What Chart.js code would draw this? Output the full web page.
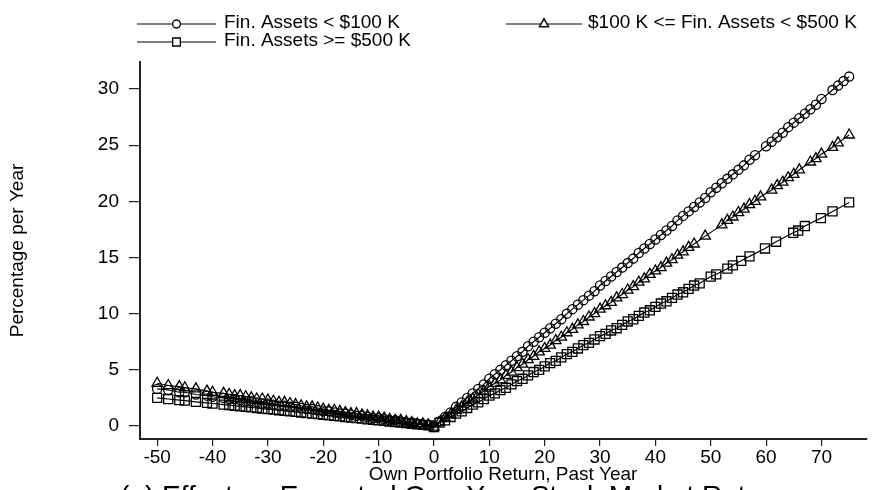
<!DOCTYPE html>
<html>
<head>
<meta charset="utf-8">
<script src="https://cdn.jsdelivr.net/npm/chart.js@4.4.1/dist/chart.umd.min.js"></script>
<style>
  html, body { margin: 0; padding: 0; background: #fff; }
  #wrap { width: 874px; height: 490px; position: relative; overflow: hidden; }
</style>
</head>
<body>
<div id="wrap"><canvas id="c" width="874" height="490"></canvas></div>
<script>
// Own portfolio return (x, %) and expected market return (y, % per year), by wealth group
const lowX = [-50,-48,-46,-45,-43,-41,-40,-38,-37,-36,-35,-34,-33,-32,-31,-30,-29,-28,-27,-26,-25,-24,-23,-22,-21,-20,-19,-18,-17,-16,-15,-14,-13,-12,-11,-10,-9,-8,-7,-6,-5,-4,-3,-2,-1,0,
  1,2,3,4,5,6,7,8,9,10,11,12,13,14,15,16,17,18,19,20,21,22,23,24,25,26,27,28,29,30,31,32,33,34,35,36,37,38,39,40,41,42,43,44,45,46,47,48,49,50,51,52,53,54,55,56,57,58,
  60,61,62,63,64,65,66,67,68,69,70,72,73,74,75];
const lowY = [3.3,3.2,3.0,3.0,2.8,2.7,2.6,2.5,2.4,2.4,2.3,2.2,2.2,2.1,2.0,2.0,1.9,1.8,1.8,1.7,1.7,1.6,1.5,1.5,1.4,1.3,1.3,1.2,1.1,1.1,1.0,0.9,0.9,0.8,0.7,0.7,0.6,0.5,0.5,0.4,0.3,0.3,0.2,0.1,0.1,-0.1,
  0.4,0.8,1.2,1.7,2.1,2.5,2.9,3.3,3.7,4.2,4.6,5.0,5.4,5.8,6.2,6.6,7.1,7.5,7.9,8.3,8.7,9.1,9.5,10.0,10.4,10.8,11.2,11.6,12.0,12.5,12.9,13.3,13.7,14.1,14.5,14.9,15.4,15.8,16.2,16.6,17.0,17.4,17.8,18.3,18.7,19.1,19.5,19.9,20.3,20.8,21.2,21.6,22.0,22.4,22.8,23.2,23.7,24.1,
  24.9,25.3,25.7,26.1,26.6,27.0,27.4,27.8,28.2,28.6,29.1,29.9,30.3,30.7,31.1];

const midX = [-50,-48,-46,-45,-43,-41,-40,-38,-37,-36,-35,-34,-33,-32,-31,-30,-29,-28,-27,-26,-25,-24,-23,-22,-21,-20,-19,-18,-17,-16,-15,-14,-13,-12,-11,-10,-9,-8,-7,-6,-5,-4,-3,-2,-1,0,
  1,2,3,4,5,6,7,8,9,10,11,12,13,14,15,16,17,18,19,20,21,22,23,24,25,26,27,28,29,30,31,32,33,34,35,36,37,38,39,40,41,42,43,44,45,46,47,49,
  52,53,54,55,56,57,58,59,61,62,63,64,65,66,68,69,70,72,73,75];
const midY = [3.8,3.6,3.5,3.4,3.3,3.1,3.0,2.9,2.8,2.7,2.7,2.6,2.5,2.4,2.4,2.3,2.2,2.1,2.1,2.0,1.9,1.8,1.7,1.7,1.6,1.5,1.4,1.4,1.3,1.2,1.1,1.1,1.0,0.9,0.8,0.8,0.7,0.6,0.5,0.5,0.4,0.3,0.2,0.2,0.1,-0.1,
  0.3,0.7,1.0,1.4,1.7,2.1,2.4,2.8,3.1,3.5,3.8,4.1,4.5,4.8,5.2,5.5,5.9,6.2,6.6,6.9,7.2,7.6,7.9,8.3,8.6,9.0,9.3,9.7,10.0,10.4,10.7,11.0,11.4,11.7,12.1,12.4,12.8,13.1,13.5,13.8,14.1,14.5,14.8,15.2,15.5,15.9,16.2,16.9,
  17.9,18.3,18.6,19.0,19.3,19.7,20.0,20.4,21.0,21.4,21.7,22.1,22.4,22.8,23.5,23.8,24.2,24.8,25.2,25.9];

const highX = [-50,-48,-46,-45,-43,-41,-40,-38,-37,-36,-35,-34,-33,-32,-31,-30,-29,-28,-27,-26,-25,-24,-23,-22,-21,-20,-19,-18,-17,-16,-15,-14,-13,-12,-11,-10,-9,-8,-7,-6,-5,-4,-3,-2,-1,0,
  1,2,3,4,5,6,7,8,9,10,11,12,13,14,15,16,17,18,19,20,21,22,23,24,25,26,27,28,29,30,31,32,33,34,35,36,37,38,39,40,41,42,43,44,45,46,47,48,
  50,51,53,54,55.5,57,59.8,61.8,64.9,65.8,67,69.9,72,75];
const highY = [2.5,2.4,2.3,2.25,2.15,2.05,2.0,1.9,1.85,1.8,1.75,1.7,1.65,1.6,1.55,1.5,1.45,1.4,1.35,1.3,1.25,1.2,1.15,1.1,1.05,1.0,0.95,0.9,0.85,0.8,0.75,0.7,0.65,0.6,0.55,0.5,0.45,0.4,0.35,0.3,0.25,0.2,0.15,0.1,0.05,-0.1,
  0.3,0.5,0.8,1.1,1.3,1.6,1.9,2.1,2.4,2.7,2.9,3.2,3.4,3.7,4.0,4.2,4.5,4.8,5.0,5.3,5.6,5.8,6.1,6.4,6.6,6.9,7.2,7.4,7.7,8.0,8.2,8.5,8.7,9.0,9.3,9.5,9.8,10.1,10.3,10.6,10.9,11.1,11.4,11.7,11.9,12.2,12.5,12.7,
  13.3,13.5,14.0,14.3,14.7,15.1,15.8,16.4,17.2,17.4,17.8,18.5,19.1,19.9];

const seriesLabels = ['Fin. Assets < $100 K', '$100 K <= Fin. Assets < $500 K', 'Fin. Assets >= $500 K'];
const xTickValues = [-50,-40,-30,-20,-10,0,10,20,30,40,50,60,70];
const yTickValues = [0,5,10,15,20,25,30];
const xTitle = 'Own Portfolio Return, Past Year';
const yTitle = 'Percentage per Year';
const caption = '(a) Effect on Expected One-Year Stock Market Return';

const FONT = '"Liberation Sans", Arial, Helvetica, sans-serif';
const INK = '#000';

function pairs(xs, ys) { return xs.map((x, i) => ({ x: x, y: ys[i] })); }

function series(label, xs, ys, style, radius) {
  return {
    label: label,
    data: pairs(xs, ys),
    borderColor: '#000',
    borderWidth: 1.2,
    backgroundColor: 'rgba(0,0,0,0)',
    pointStyle: style,
    pointRadius: radius,
    pointBorderColor: '#000',
    pointBackgroundColor: 'rgba(0,0,0,0)',
    pointBorderWidth: 1.3,
    tension: 0,
    fill: false
  };
}

// Legend block (line with marker in the middle) and the figure caption
const legendAndCaption = {
  id: 'legendAndCaption',
  afterDraw(chart) {
    const ctx = chart.ctx;
    const items = [
      { ds: 0, x0: 137, x1: 216, y: 24, tx: 224 },
      { ds: 1, x0: 506, x1: 582, y: 24, tx: 588 },
      { ds: 2, x0: 137, x1: 216, y: 42, tx: 224 }
    ];
    ctx.save();
    items.forEach(it => {
      const ds = chart.data.datasets[it.ds];
      ctx.strokeStyle = '#000';
      ctx.lineWidth = 1.2;
      ctx.beginPath();
      ctx.moveTo(it.x0, it.y);
      ctx.lineTo(it.x1, it.y);
      ctx.stroke();
      const mx = (it.x0 + it.x1) / 2;
      const opts = { pointStyle: ds.pointStyle, radius: ds.pointRadius * 0.85, borderWidth: 1.3 };
      ctx.fillStyle = '#fff';
      Chart.helpers.drawPoint(ctx, opts, mx, it.y);
      ctx.fill();
      ctx.strokeStyle = '#000';
      ctx.lineWidth = 1.3;
      Chart.helpers.drawPoint(ctx, opts, mx, it.y);
      ctx.fillStyle = INK;
      ctx.font = '19px ' + FONT;
      ctx.textAlign = 'left';
      ctx.textBaseline = 'middle';
      ctx.fillText(ds.label, it.tx, it.y - 1);
    });
    ctx.fillStyle = INK;
    ctx.font = '28px ' + FONT;
    ctx.textAlign = 'left';
    ctx.textBaseline = 'alphabetic';
    ctx.fillText(caption, 120, 505);
    ctx.restore();
  }
};

new Chart(document.getElementById('c'), {
  type: 'line',
  data: {
    datasets: [
      series(seriesLabels[0], lowX, lowY, 'circle', 4.6),
      series(seriesLabels[1], midX, midY, 'triangle', 6),
      series(seriesLabels[2], highX, highY, 'rect', 6.4)
    ]
  },
  options: {
    responsive: false,
    animation: false,
    events: [],
    layout: { padding: { top: 62, right: 6, left: 0, bottom: 0 } },
    plugins: {
      legend: { display: false },
      tooltip: { enabled: false }
    },
    scales: {
      x: {
        type: 'linear',
        min: -53.1,
        max: 78.1,
        afterBuildTicks: s => { s.ticks = xTickValues.map(v => ({ value: v })); },
        afterFit: s => { s.height = 51; },
        grid: { display: true, drawOnChartArea: false, drawTicks: true, tickLength: 7, color: '#222', lineWidth: 1.2 },
        border: { display: true, color: '#222', width: 2 },
        ticks: { font: { size: 19, family: FONT }, color: INK, padding: 0, maxRotation: 0, autoSkip: false },
        title: { display: true, text: xTitle, font: { size: 19, family: FONT }, color: INK, padding: { top: 0, bottom: 4 } }
      },
      y: {
        type: 'linear',
        min: -1.16,
        max: 32.4,
        afterBuildTicks: s => { s.ticks = yTickValues.map(v => ({ value: v })); },
        afterFit: s => { s.width = 140; },
        grid: { display: true, drawOnChartArea: false, drawTicks: true, tickLength: 11, color: '#222', lineWidth: 1.2 },
        border: { display: true, color: '#222', width: 2 },
        ticks: { font: { size: 19, family: FONT }, color: INK, padding: 10, autoSkip: false },
        title: { display: true, text: yTitle, font: { size: 19, family: FONT }, color: INK, padding: { top: 6, bottom: 0 } }
      }
    }
  },
  plugins: [legendAndCaption]
});
</script>
</body>
</html>
